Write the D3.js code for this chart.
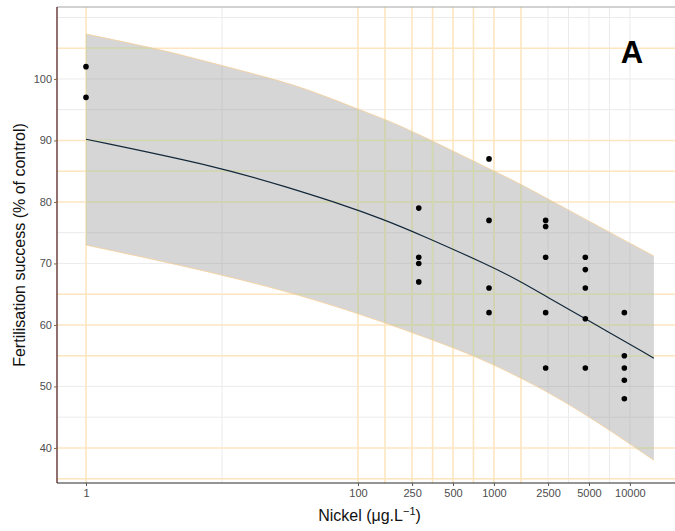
<!DOCTYPE html>
<html>
<head>
<meta charset="utf-8">
<script src="https://cdnjs.cloudflare.com/ajax/libs/d3/7.8.5/d3.min.js"></script>
<style>
  body { margin: 0; background: #fff; }
  svg { display: block; font-family: "Liberation Sans", Arial, sans-serif; }
</style>
</head>
<body>
<div id="chart"></div>
<script>
// observed fertilisation success per nickel concentration
var pointConc = [1, 1,
  280, 280, 280, 280,
  920, 920, 920, 920,
  2400, 2400, 2400, 2400, 2400,
  4700, 4700, 4700, 4700, 4700,
  9100, 9100, 9100, 9100, 9100];
var pointSuccess = [102, 97,
  79, 71, 70, 67,
  87, 77, 66, 62,
  77, 76, 71, 62, 53,
  71, 69, 66, 61, 53,
  62, 55, 53, 51, 48];

// fitted curve and confidence band
var fitConc = [1, 10, 30, 74, 153, 280, 920, 1500, 2400, 4700, 15000];
var fitValue = [90.2, 85.6, 82.4, 79.7, 77.2, 74.8, 69.7, 67.3, 64.7, 61.0, 54.6];
var upperConc = [1, 3.5, 6.9, 24, 44, 100, 163, 241, 984, 1540, 2440, 15000];
var upperValue = [107.3, 104.8, 103.1, 100.0, 98.2, 95.1, 93.3, 91.7, 85.1, 83.0, 80.6, 71.2];
var lowerConc = [1, 5.8, 27, 100, 240, 700, 2180, 4830, 9500, 15000];
var lowerValue = [73.0, 69.4, 65.8, 61.9, 58.9, 55.2, 49.9, 45.3, 41.0, 38.0];

// axes
var xTicks = [1, 100, 250, 500, 1000, 2500, 5000, 10000];
var yTicks = [40, 50, 60, 70, 80, 90, 100];
var hGridOrange = [105, 90, 85, 80, 65, 60, 55, 40, 35];
var hGridGray = [110, 100, 95, 75, 70, 50, 45];
var vGridOrange = [1, 100, 158, 250, 354, 500, 707, 1000, 1581];
var vGridGray = [10, 2500, 3536, 5000, 7071, 10000];

var width = 675, height = 531;
var pLeft = 57, pRight = 682, pTop = 7, pBottom = 483;

var svg = d3.select("#chart").append("svg")
    .attr("width", width)
    .attr("height", height);

var x = d3.scaleLog()
    .domain([Math.pow(10, -0.2132), Math.pow(10, 4.383)])
    .range([pLeft, pRight]);
var y = d3.scaleLinear()
    .domain([34.3, 111.7])
    .range([pBottom, pTop]);

// gridlines
var grid = svg.append("g");
grid.selectAll(".hg").data(hGridGray).enter().append("line")
    .attr("x1", pLeft).attr("x2", width)
    .attr("y1", function(d) { return y(d); }).attr("y2", function(d) { return y(d); })
    .style("stroke", "#ebebeb").style("stroke-width", 1);
grid.selectAll(".vg").data(vGridGray).enter().append("line")
    .attr("x1", function(d) { return x(d); }).attr("x2", function(d) { return x(d); })
    .attr("y1", pTop).attr("y2", pBottom)
    .style("stroke", "#ebebeb").style("stroke-width", 1);
grid.selectAll(".ho").data(hGridOrange).enter().append("line")
    .attr("x1", pLeft).attr("x2", width)
    .attr("y1", function(d) { return y(d); }).attr("y2", function(d) { return y(d); })
    .style("stroke", "#fde6bf").style("stroke-width", 1.4);
grid.selectAll(".vo").data(vGridOrange).enter().append("line")
    .attr("x1", function(d) { return x(d); }).attr("x2", function(d) { return x(d); })
    .attr("y1", pTop).attr("y2", pBottom)
    .style("stroke", "#fde6bf").style("stroke-width", 1.6);

// ribbon
var line = d3.line()
    .x(function(d) { return x(d[0]); })
    .y(function(d) { return y(d[1]); })
    .curve(d3.curveBasis);

var upper = upperConc.map(function(c, i) { return [c, upperValue[i]]; });
var lower = lowerConc.map(function(c, i) { return [c, lowerValue[i]]; });
var fit = fitConc.map(function(c, i) { return [c, fitValue[i]]; });

var upperD = line(upper);
var lowerD = line(lower.slice().reverse());
var ribbonD = upperD + "L" + lowerD.slice(1) + "Z";

svg.append("clipPath").attr("id", "band")
    .append("path").attr("d", ribbonD);

svg.append("path")
    .attr("d", ribbonD)
    .style("fill", "#999999")
    .style("fill-opacity", 0.4);

// tinted gridlines seen through the band
var tint = svg.append("g").attr("clip-path", "url(#band)");
tint.selectAll("line.h").data(hGridOrange).enter().append("line")
    .attr("x1", pLeft).attr("x2", width)
    .attr("y1", function(d) { return y(d); }).attr("y2", function(d) { return y(d); })
    .style("stroke", "#cfdeaf").style("stroke-width", 1);
tint.selectAll("line.v").data(vGridOrange).enter().append("line")
    .attr("x1", function(d) { return x(d); }).attr("x2", function(d) { return x(d); })
    .attr("y1", pTop).attr("y2", pBottom)
    .style("stroke", "#cfdeaf").style("stroke-width", 1);

svg.append("path").attr("d", upperD)
    .style("fill", "none").style("stroke", "#f6cf98").style("stroke-width", 0.8);
svg.append("path").attr("d", line(lower))
    .style("fill", "none").style("stroke", "#f6cf98").style("stroke-width", 0.8);

// fitted line
svg.append("path").attr("d", line(fit))
    .style("fill", "none")
    .style("stroke", "#12283a")
    .style("stroke-width", 1.2);

// points
svg.selectAll("circle")
    .data(pointConc)
    .enter()
    .append("circle")
    .attr("cx", function(d) { return x(d); })
    .attr("cy", function(d, i) { return y(pointSuccess[i]); })
    .attr("r", 2.8)
    .style("fill", "#000");

// panel top border
svg.append("line")
    .attr("x1", pLeft).attr("x2", width).attr("y1", pTop).attr("y2", pTop)
    .style("stroke", "#a6a6a6").style("stroke-width", 1.2);

// axes
var xAxis = svg.append("g")
    .attr("transform", "translate(0," + pBottom + ")")
    .call(d3.axisBottom(x).tickValues(xTicks).tickFormat(d3.format("d")).tickSize(3).tickSizeOuter(0));
xAxis.select(".domain").attr("d", "M" + pLeft + ",0H" + width).style("stroke", "#2b2b2b").style("stroke-width", 1.2);
xAxis.selectAll(".tick line").style("stroke", "#555");
xAxis.selectAll(".tick text")
    .attr("dy", "0.71em").attr("y", 6)
    .style("fill", "#4d4d4d").style("font-size", "11px");

var yAxis = svg.append("g")
    .attr("transform", "translate(" + pLeft + ",0)")
    .call(d3.axisLeft(y).tickValues(yTicks).tickSize(3).tickSizeOuter(0));
yAxis.select(".domain").attr("d", "M0," + pTop + "V" + pBottom).style("stroke", "#4a1212").style("stroke-width", 1.2);
yAxis.selectAll(".tick line").style("stroke", "#8a6a40");
yAxis.selectAll(".tick text")
    .attr("x", -5)
    .style("fill", "#4d4d4d").style("font-size", "11px");

// axis titles
var xt = svg.append("text")
    .attr("x", (pLeft + pRight) / 2)
    .attr("y", 521)
    .attr("text-anchor", "middle")
    .style("font-size", "16px")
    .style("fill", "#111");
xt.append("tspan").text("Nickel (μg.L");
xt.append("tspan").attr("dy", -6).style("font-size", "11px").text("−1");
xt.append("tspan").attr("dy", 6).text(")");

svg.append("text")
    .attr("transform", "translate(25,245) rotate(-90)")
    .attr("text-anchor", "middle")
    .style("font-size", "16px")
    .style("fill", "#111")
    .text("Fertilisation success (% of control)");

// panel tag
svg.append("text")
    .attr("x", 632)
    .attr("y", 63)
    .attr("text-anchor", "middle")
    .style("font-size", "31px")
    .style("font-weight", "bold")
    .style("fill", "#000")
    .text("A");
</script>
</body>
</html>
